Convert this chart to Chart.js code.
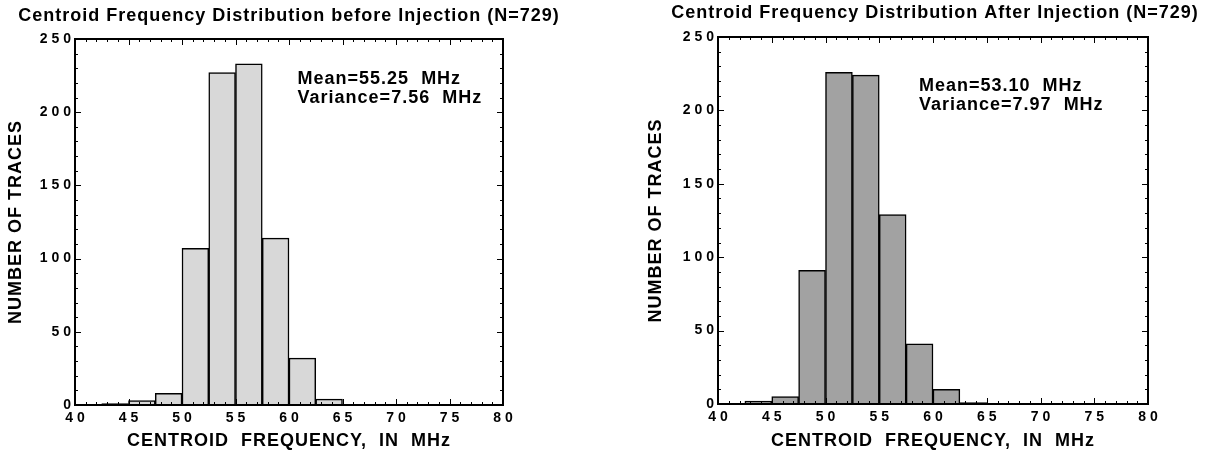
<!DOCTYPE html>
<html>
<head>
<meta charset="utf-8">
<script src="https://cdn.jsdelivr.net/npm/chart.js@4/dist/chart.umd.min.js"></script>
<style>
  html, body { margin: 0; padding: 0; background: #fff; overflow: hidden; }
  #wrap { position: relative; width: 1209px; height: 459px; overflow: hidden; }
  canvas { position: absolute; top: 0; }
  #before-chart { left: 0; }
  #after-chart { left: 640px; }
</style>
</head>
<body>
<div id="wrap">
  <canvas id="before-chart" width="578" height="459"></canvas>
  <canvas id="after-chart" width="590" height="459"></canvas>
</div>
<script>
// histogram bins are 2.5 MHz wide, values are bin centres
const binCenters = [41.25, 43.75, 46.25, 48.75, 51.25, 53.75, 56.25, 58.75, 61.25, 63.75];
const countsBefore = [0, 1, 3, 8, 107, 227, 233, 114, 32, 4];
const countsAfter = [0, 2, 5, 91, 226, 224, 129, 41, 10, 1];

const xMin = 40, xMax = 80, xStep = 5;
const yMin = 0, yMax = 250, yStep = 50;

const statsBefore = ['Mean=55.25  MHz', 'Variance=7.56  MHz'];
const statsAfter = ['Mean=53.10  MHz', 'Variance=7.97  MHz'];

Chart.defaults.font.family = "'Liberation Sans', Arial, Helvetica, sans-serif";
Chart.defaults.color = '#000';

// spaced digits like the old plotter output: 40 -> "4 0"
function spaced(value) {
    return String(value).split('').join(' ');
}

// frame with inward ticks on all four sides, plus the stats text
const frameTicks = {
    id: 'frameTicks',
    beforeDraw(chart) {
        chart.ctx.letterSpacing = '1px';  // titles are a bit letter-spaced
    },
    beforeDatasetsDraw(chart) {
        chart.ctx.letterSpacing = '0px';
    },
    afterDraw(chart, args, opts) {
        const ctx = chart.ctx;
        const a = chart.chartArea;
        const x = chart.scales.x;
        const y = chart.scales.y;
        ctx.save();
        ctx.strokeStyle = '#000';
        ctx.lineWidth = 1;
        ctx.beginPath();
        for (let v = x.min; v <= x.max; v += 1) {
            const px = Math.round(x.getPixelForValue(v)) + 0.5;
            const len = v % 5 === 0 ? 6 : 3;
            ctx.moveTo(px, a.bottom); ctx.lineTo(px, a.bottom - len);
            ctx.moveTo(px, a.top); ctx.lineTo(px, a.top + len);
        }
        for (let v = y.min; v <= y.max; v += 10) {
            const py = Math.round(y.getPixelForValue(v)) + 0.5;
            const len = v % 50 === 0 ? 6 : 3;
            ctx.moveTo(a.left, py); ctx.lineTo(a.left + len, py);
            ctx.moveTo(a.right, py); ctx.lineTo(a.right - len, py);
        }
        ctx.stroke();
        ctx.lineWidth = 2;
        ctx.strokeRect(a.left, a.top, a.right - a.left, a.bottom - a.top);

        if (opts.lines) {
            ctx.letterSpacing = '1px';
            ctx.fillStyle = '#000';
            ctx.font = "bold 18px 'Liberation Sans', Arial, sans-serif";
            ctx.textBaseline = 'middle';
            ctx.textAlign = 'left';
            const tx = x.getPixelForValue(opts.at[0]);
            const ty = y.getPixelForValue(opts.at[1]);
            opts.lines.forEach((line, i) => ctx.fillText(line, tx, ty + i * 19));
        }
        ctx.restore();
        ctx.letterSpacing = '0px';
    }
};

let chartInstances = {};

function plotHistogram(canvasId, cfg) {
    const ctx = document.getElementById(canvasId).getContext('2d');
    chartInstances[canvasId] = new Chart(ctx, {
        type: 'bar',
        data: {
            datasets: [{
                data: binCenters.map((c, i) => ({ x: c, y: cfg.counts[i] })),
                backgroundColor: cfg.fill,
                borderColor: '#000',
                borderWidth: 1.5,
                borderSkipped: 'start',
                barPercentage: 1,
                categoryPercentage: 1
            }]
        },
        options: {
            responsive: false,
            animation: false,
            layout: { padding: 0 },
            plugins: {
                legend: { display: false },
                tooltip: { enabled: false },
                title: {
                    display: true,
                    text: cfg.title,
                    font: { size: 18, weight: 'bold' },
                    padding: { top: cfg.titleTop, bottom: cfg.titleBottom }
                },
                frameTicks: { lines: cfg.stats, at: cfg.statsAt }
            },
            scales: {
                x: {
                    type: 'linear',
                    min: xMin,
                    max: xMax,
                    offset: false,
                    grid: { display: false, drawTicks: false },
                    border: { display: false },
                    ticks: {
                        stepSize: xStep,
                        padding: 5,
                        z: 1,
                        maxRotation: 0,
                        font: { size: 14, weight: 'bold' },
                        callback: (v) => spaced(v)
                    },
                    title: {
                        display: true,
                        text: 'CENTROID  FREQUENCY,  IN  MHz',
                        font: { size: 18, weight: 'bold' },
                        padding: { top: 0, bottom: 7 }
                    },
                    afterFit: (s) => { s.height = cfg.xHeight; }
                },
                y: {
                    min: yMin,
                    max: yMax,
                    grid: { display: false, drawTicks: false },
                    border: { display: false },
                    ticks: {
                        stepSize: yStep,
                        padding: 4,
                        z: 1,
                        font: { size: 14, weight: 'bold' },
                        callback: (v) => spaced(v)
                    },
                    title: {
                        display: true,
                        text: 'NUMBER OF TRACES',
                        font: { size: 18, weight: 'bold' },
                        padding: { top: 5, bottom: 0 }
                    },
                    afterFit: (s) => { s.width = cfg.yWidth; }
                },
                // empty right axis, only there to hold the right margin
                y2: {
                    position: 'right',
                    grid: { display: false },
                    border: { display: false },
                    ticks: { display: false },
                    afterFit: (s) => { s.width = cfg.rightWidth; }
                }
            }
        },
        plugins: [frameTicks]
    });
}

plotHistogram('before-chart', {
    title: 'Centroid Frequency Distribution before Injection (N=729)',
    counts: countsBefore,
    fill: '#d8d8d8',
    stats: statsBefore,
    statsAt: [60.8, 222.5],
    titleTop: 5,
    titleBottom: 12.4,
    xHeight: 54,
    yWidth: 75,
    rightWidth: 75
});

plotHistogram('after-chart', {
    title: 'Centroid Frequency Distribution After Injection (N=729)',
    counts: countsAfter,
    fill: '#a2a2a2',
    stats: statsAfter,
    statsAt: [58.7, 216.5],
    titleTop: 2,
    titleBottom: 13.4,
    xHeight: 55,
    yWidth: 78,
    rightWidth: 82
});
</script>
</body>
</html>
